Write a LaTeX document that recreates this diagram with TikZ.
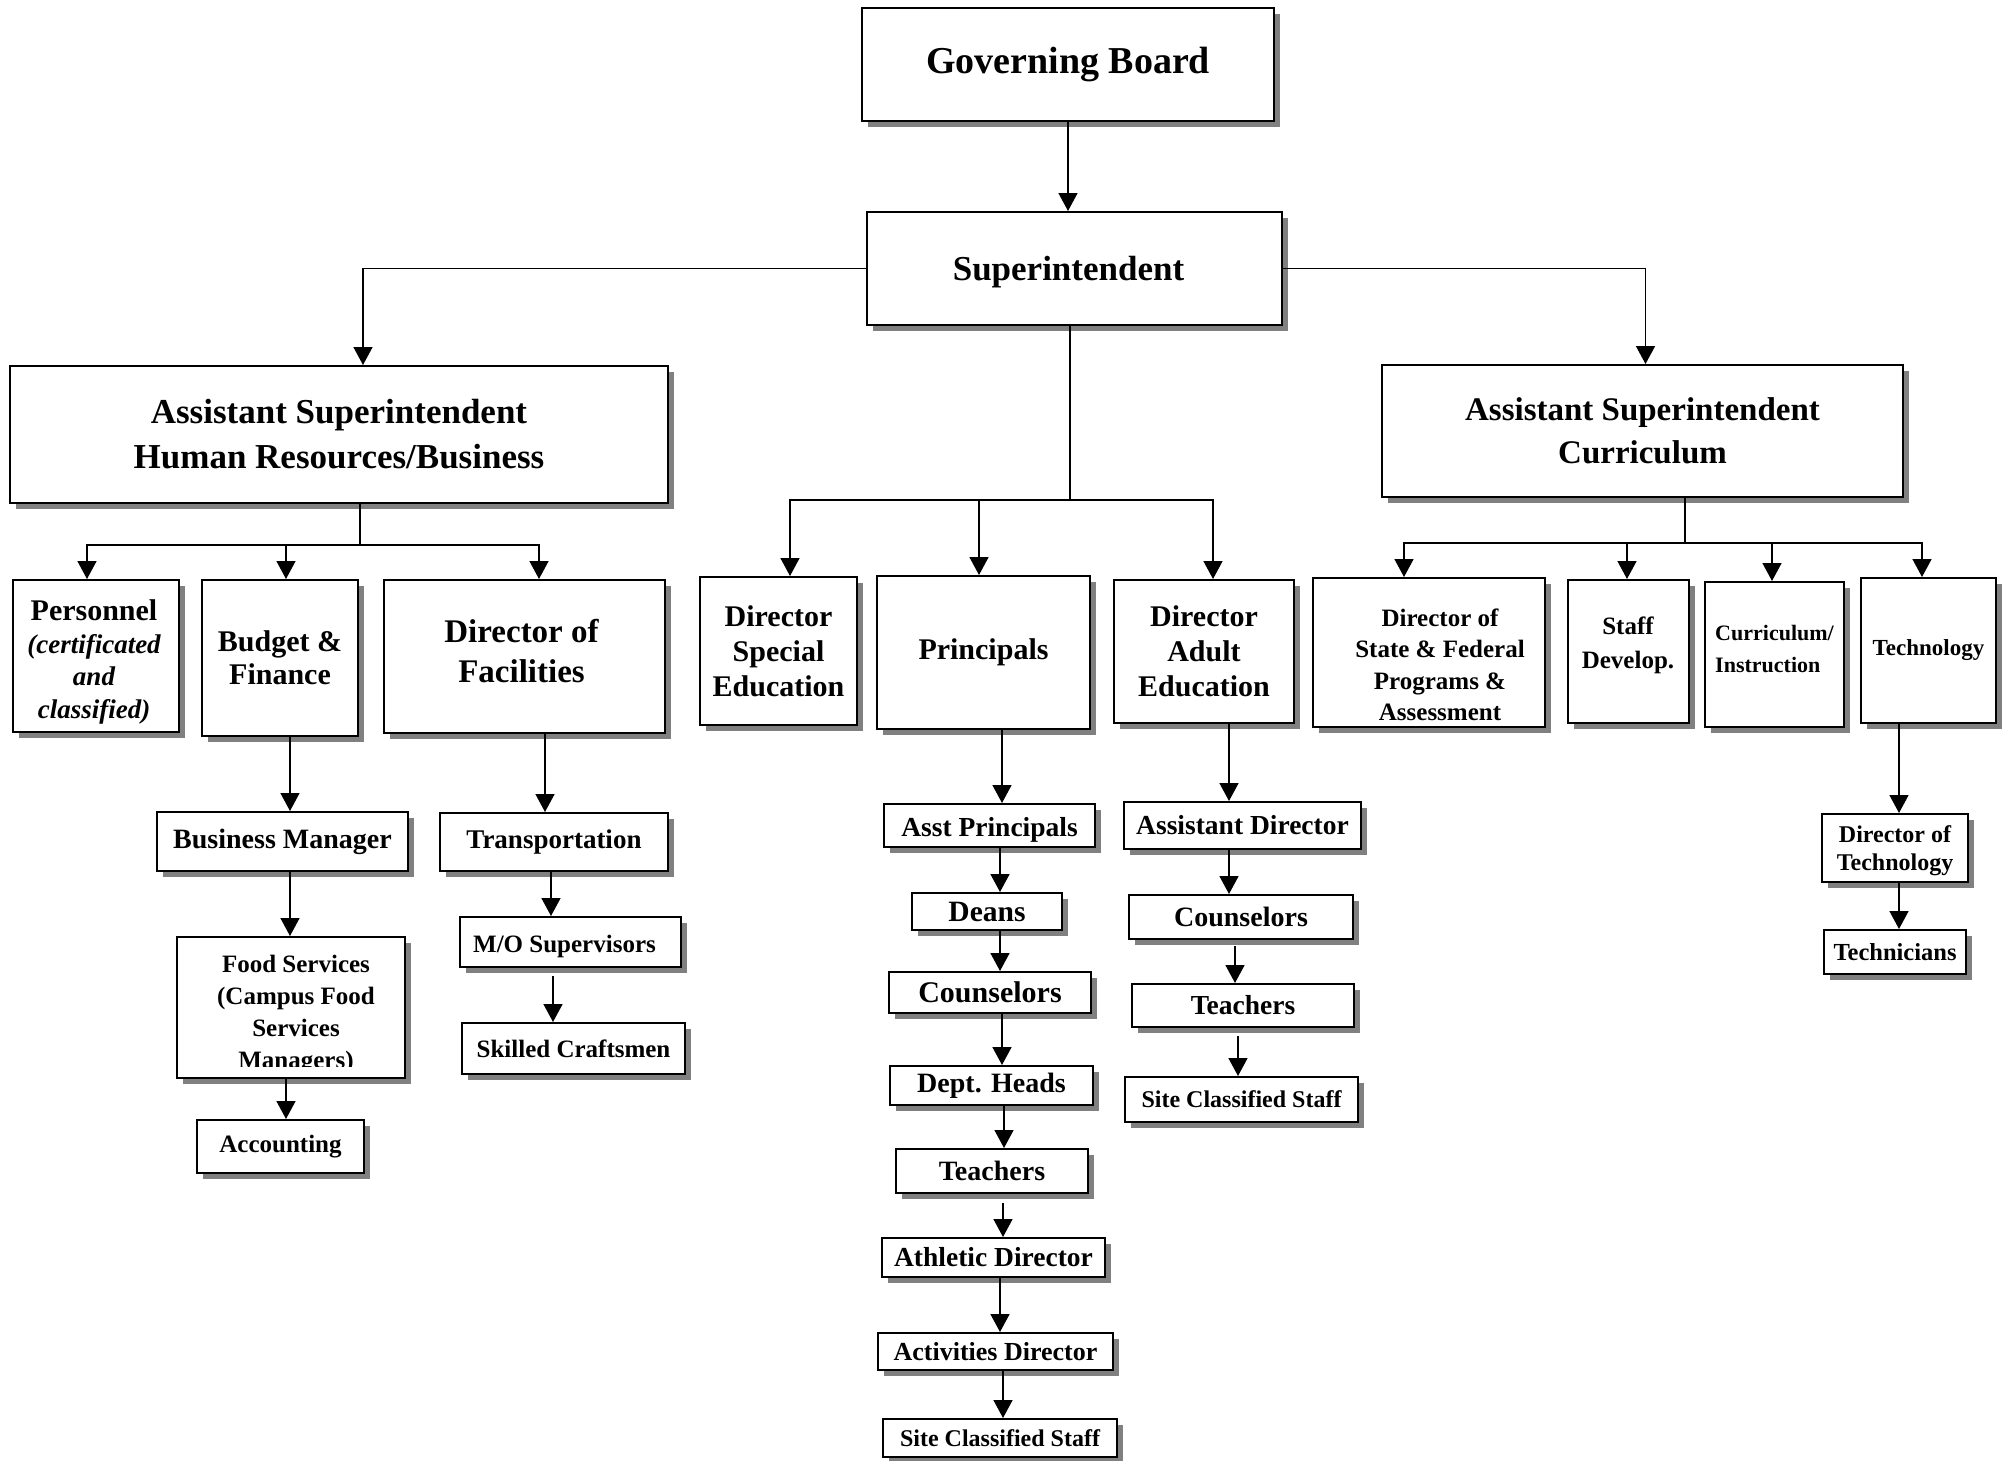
\documentclass[tikz,border=0pt]{standalone}
\usepackage{fontspec}
\setmainfont{Liberation Serif}
\usetikzlibrary{arrows.meta,shadows}
\definecolor{shadowgray}{RGB}{128,128,128}
% bold text at a given size and line distance
\newcommand\fz[2]{\fontsize{#1}{#2}\selectfont\bfseries}
% box given by its corners: [options]{x1}{y1}{x2}{y2}{name}{text}
\newcommand\orgbox[7][]{%
  \node[box,minimum width={#4-#2},minimum height={#5-#3},#1] (#6)
    at ({(#2+#4)/2},{(#3+#5)/2}) {#7};}

\begin{document}
\begin{tikzpicture}[x=1pt,y=-1pt,
  box/.style={draw, line width=2pt, fill=white, inner sep=0pt, align=center,
    drop shadow={shadow xshift=6pt, shadow yshift=-6pt, fill=shadowgray, opacity=1}},
  txt/.style={inner sep=0pt, align=center},
  ln/.style={line width=1.6pt},
  arr/.style={ln, -{Triangle[width=19pt,length=18pt]}}]

\fill[white] (0,0) rectangle (2011,1461);
\useasboundingbox (0,0) rectangle (2011,1461);

% top levels
\orgbox[font=\fz{38}{44}]{862}{8}{1274}{121}{gb}{Governing Board}
\orgbox{867}{212}{1282}{325}{sup}{}
\node[txt, font=\fz{35}{42}] (sup-t) at (1068.5,272.5) {Superintendent};
\orgbox[font=\fz{35}{45}]{10}{366}{668}{503}{hr}{Assistant Superintendent\\Human Resources/Business}
\orgbox[font=\fz{33}{43}]{1382}{365}{1903}{497}{cur}{Assistant Superintendent\\Curriculum}

% human resources / business branch
\orgbox{13}{580}{179}{732}{pers}{}
\node[txt, font=\fz{27}{32.5}] (pers-t) at (94,662) {{\fontsize{30}{32.5}\selectfont Personnel}\\{\itshape (certificated}\\{\itshape and}\\{\itshape classified)}};
\orgbox[font=\fz{30}{33}]{202}{580}{358}{736}{bud}{Budget \&\\Finance}
\orgbox{384}{580}{665}{733}{fac}{}
\node[txt, font=\fz{33}{40}] (fac-t) at (521.5,651) {Director of\\Facilities};
\orgbox[font=\fz{28}{32}]{157}{812}{408}{871}{bm}{Business Manager}
\orgbox{177}{937}{405}{1078}{food}{}
\begin{scope}
  \clip (178,939) rectangle (404,1066);
  \node[txt, font=\fz{25}{32}] (food-t) at (296,1015) {Food Services\\(Campus Food\\Services\\Managers)};
\end{scope}
\orgbox[font=\fz{25}{30}]{197}{1120}{364}{1173}{acct}{Accounting}
\orgbox[font=\fz{27}{32}]{440}{813}{668}{871}{trans}{Transportation}
\orgbox{460}{917}{681}{967}{mo}{}
\node[txt, font=\fz{25}{30}] (mo-t) at (564.5,946) {M/O Supervisors};
\orgbox[font=\fz{25}{30}]{462}{1023}{685}{1074}{skill}{Skilled Craftsmen}

% schools branch
\orgbox[font=\fz{30}{35}]{700}{577}{857}{725}{dse}{Director\\Special\\Education}
\orgbox[font=\fz{30}{35}]{877}{576}{1090}{729}{prin}{Principals}
\orgbox[font=\fz{30}{35}]{1114}{580}{1294}{723}{dae}{Director\\Adult\\Education}
\orgbox{884}{804}{1095}{847}{ap}{}
\node[txt, font=\fz{27.5}{32}] (ap-t) at (989.5,829.5) {Asst Principals};
\orgbox[font=\fz{29.5}{34}]{912}{893}{1062}{930}{deans}{Deans}
\orgbox[font=\fz{30}{34}]{889}{972}{1091}{1013}{cns1}{Counselors}
\orgbox[font=\fz{28}{32}]{890}{1066}{1093}{1105}{dept}{Dept. Heads}
\orgbox[font=\fz{28}{32}]{896}{1149}{1088}{1193}{tch1}{Teachers}
\orgbox[font=\fz{27.5}{32}]{882}{1238}{1105}{1277}{ath}{Athletic Director}
\orgbox[font=\fz{26}{30}]{878}{1333}{1113}{1370}{act}{Activities Director}
\orgbox[font=\fz{24}{28}]{883}{1419}{1117}{1457}{site1}{Site Classified Staff}
\orgbox[font=\fz{27.5}{32}]{1124}{802}{1361}{849}{ad}{Assistant Director}
\orgbox[font=\fz{28}{32}]{1129}{895}{1353}{939}{cns2}{Counselors}
\orgbox[font=\fz{27.5}{32}]{1132}{984}{1354}{1027}{tch2}{Teachers}
\orgbox[font=\fz{24}{28}]{1125}{1077}{1358}{1122}{site2}{Site Classified Staff}

% curriculum branch
\orgbox{1313}{578}{1545}{727}{sfp}{}
\node[txt, font=\fz{25}{31.5}] (sfp-t) at (1440,665) {Director of\\State \& Federal\\Programs \&\\Assessment};
\orgbox{1568}{580}{1689}{723}{staff}{}
\node[txt, font=\fz{25}{34}] (staff-t) at (1628,645) {Staff\\Develop.};
\orgbox{1705}{582}{1844}{727}{ci}{}
\node[txt, font=\fz{22}{32}, align=left] (ci-t) at (1774.5,648.5) {Curriculum/\\Instruction};
\orgbox[font=\fz{23}{28}]{1861}{578}{1996}{723}{tech}{Technology}
\orgbox{1822}{814}{1968}{882}{dtech}{}
\node[txt, font=\fz{24}{28}] (dtech-t) at (1895,851) {Director of\\Technology};
\orgbox[font=\fz{24.5}{28}]{1824}{930}{1966}{974}{techs}{Technicians}

% connectors from the top
\draw[arr] (gb.south) -- (gb.south |- sup.north);
\draw[arr] (sup.west) -| ([xshift=24pt]hr.north);
\draw[arr] (sup.east) -| ([xshift=3pt]cur.north);
\coordinate (cj) at (1070,500);
\draw[ln] ([xshift=-4.5pt]sup.south) -- (cj);
\draw[arr] (cj) -| ([xshift=11.5pt]dse.north);
\draw[arr] (cj) -| ([xshift=-4.5pt]prin.north);
\draw[arr] (cj) -| ([xshift=9pt]dae.north);

% human resources / business connectors
\coordinate (hj) at (360,545);
\draw[ln] ([xshift=21pt]hr.south) -- (hj);
\draw[arr] (hj) -| ([xshift=-9pt]pers.north);
\draw[arr] (hj) -| ([xshift=6pt]bud.north);
\draw[arr] (hj) -| ([xshift=14.5pt]fac.north);
\draw[arr] ([xshift=10pt]bud.south) -- ([xshift=10pt]bud.south |- bm.north);
\draw[arr] ([xshift=7.5pt]bm.south) -- ([xshift=7.5pt]bm.south |- food.north);
\draw[arr] ([xshift=-5pt]food.south) -- ([xshift=-5pt]food.south |- acct.north);
\draw[arr] ([xshift=20.5pt]fac.south) -- ([xshift=20.5pt]fac.south |- trans.north);
\draw[arr] ([xshift=-3pt]trans.south) -- ([xshift=-3pt]trans.south |- mo.north);
\draw[arr] ([xshift=-17.5pt,yshift=-8pt]mo.south) -- ([xshift=-17.5pt]mo.south |- skill.north);

% schools connectors
\draw[arr] ([xshift=18.5pt]prin.south) -- ([xshift=18.5pt]prin.south |- ap.north);
\draw[arr] ([xshift=10.5pt]ap.south) -- ([xshift=10.5pt]ap.south |- deans.north);
\draw[arr] ([xshift=13pt]deans.south) -- ([xshift=13pt]deans.south |- cns1.north);
\draw[arr] ([xshift=12pt]cns1.south) -- ([xshift=12pt]cns1.south |- dept.north);
\draw[arr] ([xshift=12.5pt]dept.south) -- ([xshift=12.5pt]dept.south |- tch1.north);
\draw[arr] ([xshift=11pt,yshift=-9pt]tch1.south) -- ([xshift=11pt]tch1.south |- ath.north);
\draw[arr] ([xshift=6.5pt]ath.south) -- ([xshift=6.5pt]ath.south |- act.north);
\draw[arr] ([xshift=7.5pt]act.south) -- ([xshift=7.5pt]act.south |- site1.north);
\draw[arr] ([xshift=25pt]dae.south) -- ([xshift=25pt]dae.south |- ad.north);
\draw[arr] ([xshift=-13.5pt]ad.south) -- ([xshift=-13.5pt]ad.south |- cns2.north);
\draw[arr] ([xshift=-6pt,yshift=-6pt]cns2.south) -- ([xshift=-6pt]cns2.south |- tch2.north);
\draw[arr] ([xshift=-5pt,yshift=-8pt]tch2.south) -- ([xshift=-5pt]tch2.south |- site2.north);

% curriculum connectors
\coordinate (kj) at (1685,543);
\draw[ln] ([xshift=42.5pt]cur.south) -- (kj);
\draw[arr] (kj) -| ([xshift=-25pt]sfp.north);
\draw[arr] (kj) -| ([xshift=-1.5pt]staff.north);
\draw[arr] (kj) -| ([xshift=-2.5pt]ci.north);
\draw[arr] (kj) -| ([xshift=-6.5pt]tech.north);
\draw[arr] ([xshift=-29.5pt]tech.south) -- ([xshift=-29.5pt]tech.south |- dtech.north);
\draw[arr] ([xshift=4pt]dtech.south) -- ([xshift=4pt]dtech.south |- techs.north);
\end{tikzpicture}
\end{document}
